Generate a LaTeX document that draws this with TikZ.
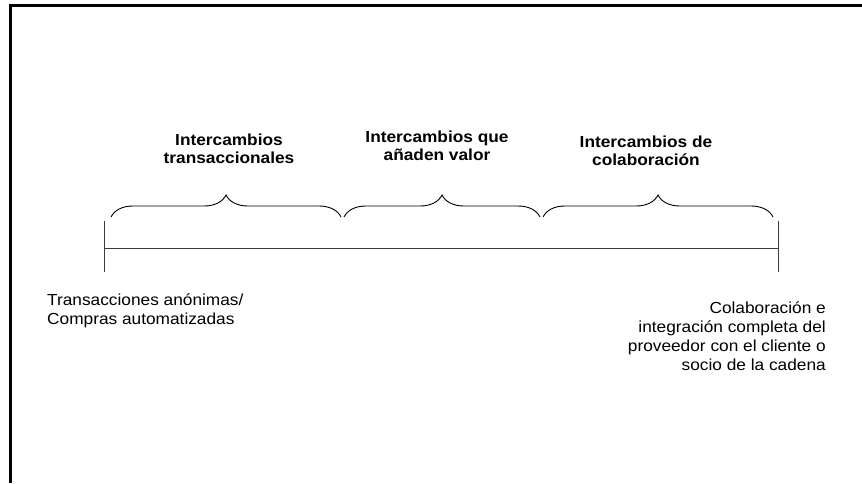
\documentclass[tikz,border=0pt]{standalone}
\usepackage{fontspec}
\setmainfont[FakeStretch=1.08]{Liberation Sans}
\usepackage{xcolor}
\usepackage{tikz}
\usetikzlibrary{decorations.pathreplacing}

\definecolor{axisgray}{RGB}{60,60,60}

\tikzset{
    stagelabel/.style={font=\fontsize{16}{18}\selectfont\bfseries, align=center, inner sep=0pt},
    endlabel/.style={font=\fontsize{16}{18.8}\selectfont, inner sep=0pt},
    curly/.style={decorate, decoration={brace, amplitude=22pt}, line width=0.9pt},
}

\begin{document}
\begin{tikzpicture}[x=1pt,y=-1pt]
    \useasboundingbox (0,0) rectangle (862,483);

    % Frame
    \draw[line width=3pt] (10,483) -- (10,5) -- (862,5);

    % Define nodes
    \coordinate (L) at (104,248);
    \coordinate (R) at (778,248);
    \coordinate (Ltop) at (104,221);
    \coordinate (Lbot) at (104,272);
    \coordinate (Rtop) at (778,221);
    \coordinate (Rbot) at (778,272);

    \coordinate (b1s) at (111,217);
    \coordinate (b1e) at (341,217);
    \coordinate (b2s) at (344,217);
    \coordinate (b2e) at (540,217);
    \coordinate (b3s) at (543,217);
    \coordinate (b3e) at (773,217);

    \node[stagelabel] (trans) at (229,149) {Intercambios\\transaccionales};
    \node[stagelabel] (valor) at (437,146) {Intercambios que\\añaden valor};
    \node[stagelabel] (colab) at (646,151) {Intercambios de\\colaboración};

    \node[endlabel, align=left, anchor=west] (anon) at (47,311) {Transacciones anónimas/\\Compras automatizadas};
    \node[endlabel, align=right, anchor=east] (integ) at (826,336) {Colaboración e\\integración completa del\\proveedor con el cliente o\\socio de la cadena};

    % Draw axis
    \draw[axisgray, line width=1pt] (L) -- (R);
    \draw[axisgray, line width=1pt] (Ltop) -- (Lbot);
    \draw[axisgray, line width=1pt] (Rtop) -- (Rbot);

    % Draw braces
    \draw[curly] (b1s) -- (b1e);
    \draw[curly] (b2s) -- (b2e);
    \draw[curly] (b3s) -- (b3e);
\end{tikzpicture}
\end{document}
